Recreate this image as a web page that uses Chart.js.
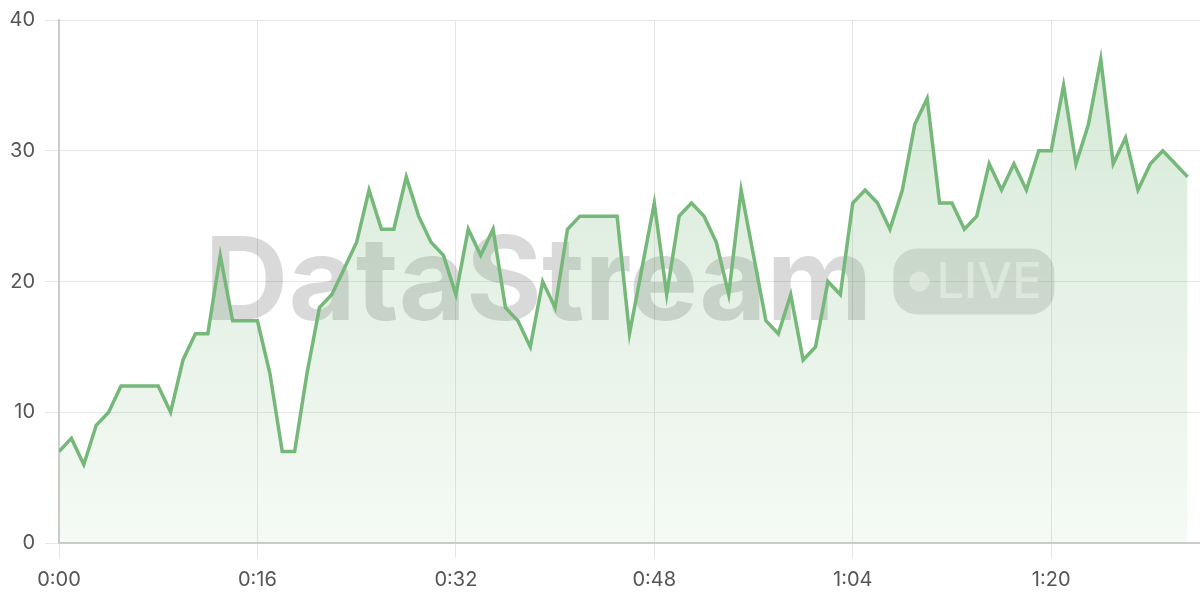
<!DOCTYPE html>
<html>
<head>
<meta charset="utf-8">
<script src="https://cdn.jsdelivr.net/npm/chart.js@4.4.1/dist/chart.umd.min.js"></script>
<style>
  html, body { margin: 0; padding: 0; background: #fff; }
  #wrap { width: 1200px; height: 600px; }
</style>
</head>
<body>
<div id="wrap"><canvas id="chart" width="1200" height="600"></canvas></div>
<script>
// one reading per second
const seconds = [
  0, 1, 2, 3, 4, 5, 6, 7, 8, 9, 10, 11, 12, 13, 14, 15, 16, 17, 18, 19,
  20, 21, 22, 23, 24, 25, 26, 27, 28, 29, 30, 31, 32, 33, 34, 35, 36, 37, 38, 39,
  40, 41, 42, 43, 44, 45, 46, 47, 48, 49, 50, 51, 52, 53, 54, 55, 56, 57, 58, 59,
  60, 61, 62, 63, 64, 65, 66, 67, 68, 69, 70, 71, 72, 73, 74, 75, 76, 77, 78, 79,
  80, 81, 82, 83, 84, 85, 86, 87, 88, 89, 90, 91
];
const values = [
  7, 8, 6, 9, 10, 12, 12, 12, 12, 10, 14, 16, 16, 22, 17, 17, 17, 13, 7, 7,
  13, 18, 19, 21, 23, 27, 24, 24, 28, 25, 23, 22, 19, 24, 22, 24, 18, 17, 15, 20,
  18, 24, 25, 25, 25, 25, 16, 21, 26, 19, 25, 26, 25, 23, 19, 27, 22, 17, 16, 19,
  14, 15, 20, 19, 26, 27, 26, 24, 27, 32, 34, 26, 26, 24, 25, 29, 27, 29, 27, 30,
  30, 35, 29, 32, 37, 29, 31, 27, 29, 30, 29, 28
];
const xTickStep = 16;
const yTicks = [0, 10, 20, 30, 40];

const lineColor = '#76b87a';
const fontFamily = "Inter, 'Liberation Sans', sans-serif";

function fmtTime(s) {
  const m = Math.floor(s / 60);
  const r = s % 60;
  return m + ':' + (r < 10 ? '0' : '') + r;
}

// big faded "DataStream ● LIVE" mark behind the line
const watermark = {
  id: 'watermark',
  beforeDatasetsDraw(chart) {
    const { ctx, chartArea } = chart;
    const cx = (chartArea.left + chartArea.right) / 2;
    const cy = (chartArea.top + chartArea.bottom) / 2;
    ctx.save();
    ctx.font = "bold 116px " + fontFamily;
    const word = 'DataStream';
    const wordW = ctx.measureText(word).width;
    const gap = 21;
    const badgeW = 161, badgeH = 66;
    const total = wordW + gap + badgeW;
    const x0 = cx - total / 2;
    ctx.fillStyle = 'rgba(0,0,0,0.15)';
    ctx.textBaseline = 'middle';
    ctx.fillText(word, x0, cy + 4);

    const bx = x0 + wordW + gap;
    const by = cy - badgeH / 2;
    ctx.beginPath();
    ctx.roundRect(bx, by, badgeW, badgeH, 24);
    ctx.fillStyle = 'rgba(0,0,0,0.12)';
    ctx.fill();

    ctx.fillStyle = 'rgba(255,255,255,0.6)';
    ctx.beginPath();
    ctx.arc(bx + 26, cy, 10, 0, Math.PI * 2);
    ctx.fill();
    ctx.font = "500 49px " + fontFamily;
    ctx.fillText('LIVE', bx + 43, cy + 2);
    ctx.restore();
  }
};

const ctx = document.getElementById('chart').getContext('2d');

new Chart(ctx, {
  type: 'line',
  data: {
    datasets: [{
      data: seconds.map((s, i) => ({ x: s, y: values[i] })),
      borderColor: lineColor,
      borderWidth: 3.5,
      pointRadius: 0,
      tension: 0,
      fill: 'origin',
      backgroundColor: (c) => {
        const area = c.chart.chartArea;
        if (!area) return 'rgba(118,184,122,0.15)';
        const g = c.chart.ctx.createLinearGradient(0, area.top, 0, area.bottom);
        g.addColorStop(0, 'rgba(118,184,122,0.32)');
        g.addColorStop(1, 'rgba(118,184,122,0.07)');
        return g;
      }
    }]
  },
  options: {
    responsive: false,
    animation: false,
    layout: { padding: { top: 0, right: 0, left: 0, bottom: 0 } },
    plugins: {
      legend: { display: false },
      tooltip: { enabled: false }
    },
    scales: {
      x: {
        type: 'linear',
        min: 0,
        max: 92,
        afterBuildTicks: (scale) => {
          scale.ticks = scale.ticks.filter(t => t.value % xTickStep === 0 && t.value <= 91);
        },
        afterFit: (scale) => { scale.height = 57; },
        ticks: {
          stepSize: xTickStep,
          color: '#555',
          font: { family: fontFamily, size: 20 },
          padding: 10,
          maxRotation: 0,
          callback: (v) => fmtTime(v)
        },
        grid: { color: '#e6e6e6', tickLength: 15 },
        border: { color: '#cccccc', width: 2 }
      },
      y: {
        min: 0,
        max: 40,
        afterBuildTicks: (scale) => {
          scale.ticks = yTicks.map(v => ({ value: v }));
        },
        afterFit: (scale) => { scale.width = 59; },
        ticks: {
          color: '#555',
          font: { family: fontFamily, size: 20, lineHeight: 1.0 },
          padding: 10
        },
        grid: { color: '#e6e6e6', tickLength: 14 },
        border: { color: '#cccccc', width: 2 }
      }
    }
  },
  plugins: [watermark]
});
</script>
</body>
</html>
